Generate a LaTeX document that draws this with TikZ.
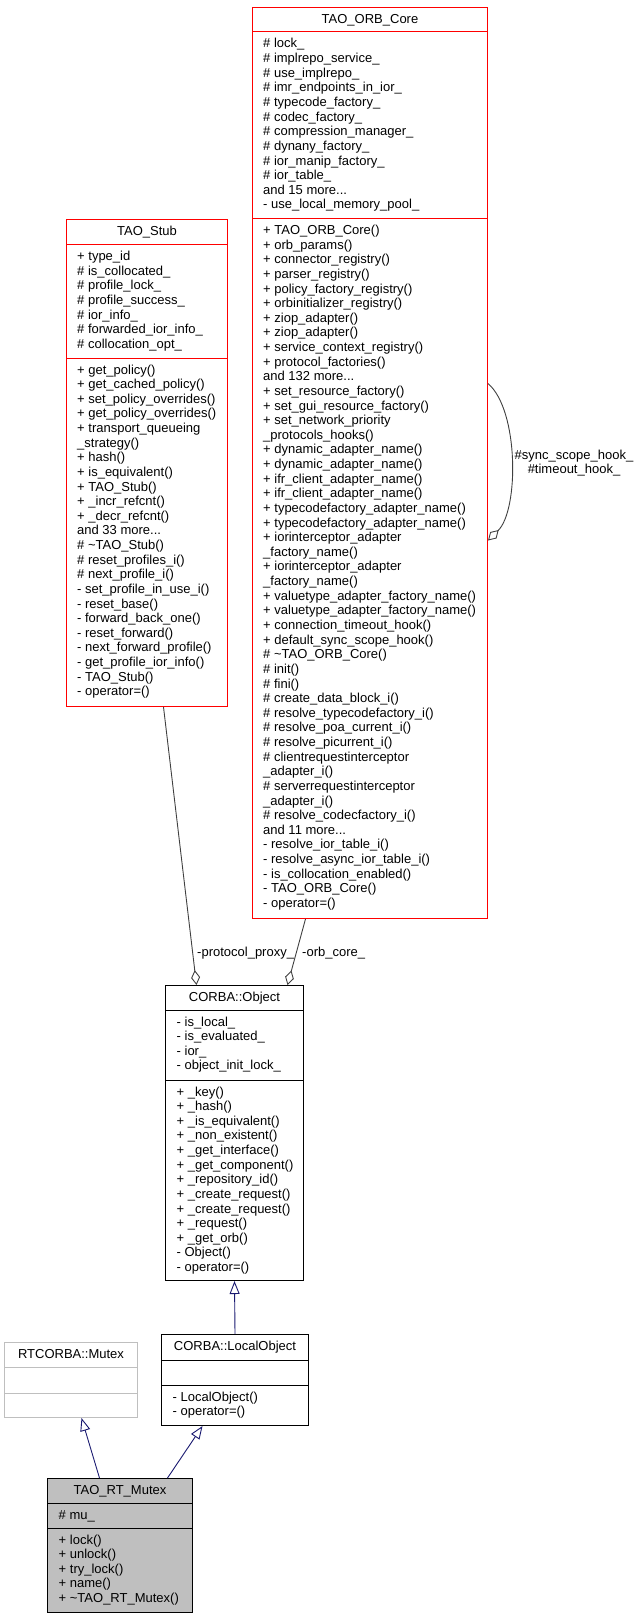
\documentclass[tikz,border=0pt]{standalone}
\usepackage{fontspec}
\setmainfont{Liberation Sans}
\usetikzlibrary{arrows.meta}
\definecolor{edgegray}{HTML}{404040}
\definecolor{inhblue}{HTML}{191970}
\definecolor{boxgray}{HTML}{BFBFBF}
\definecolor{boxred}{HTML}{FF0000}
\newcommand\moredots{...}

\begin{document}
\begin{tikzpicture}[x=1pt,y=-1pt,
  font={\fontsize{13}{14.63}\selectfont},
  classbox/.style={draw, anchor=north west, inner sep=0pt, line width=1pt},
  member/.style={anchor=base west, inner sep=0pt},
  heading/.style={anchor=base, inner sep=0pt},
  usage/.style={draw=edgegray, line width=0.9pt, -{Diamond[open,length=15pt,width=9pt]}},
  inherit/.style={draw=inhblue, line width=0.9pt, -{Triangle[open,length=13pt,width=10pt]}}]
  \useasboundingbox (0,0) rectangle (640,1619);

  \node[classbox, draw=boxred, minimum width=235pt, minimum height=911pt] (core) at (252,7) {};
  \node[heading] (core-title) at ([yshift=-16.5pt]core.north) {TAO\_ORB\_Core};
  \draw[boxred, line width=1pt] ([yshift=-25pt]core.north west) -- ([yshift=-25pt]core.north east);
  \draw[boxred, line width=1pt] ([yshift=-211pt]core.north west) -- ([yshift=-211pt]core.north east);
  \foreach \txt [count=\idx] in {\# lock\_, \# implrepo\_service\_, \# use\_implrepo\_,
    \# imr\_endpoints\_in\_ior\_, \# typecode\_factory\_, \# codec\_factory\_,
    \# compression\_manager\_, \# dynany\_factory\_, \# ior\_manip\_factory\_,
    \# ior\_table\_, and 15 more\moredots, - use\_local\_memory\_pool\_}
    \node[member] (core-a-\idx) at (263,{48+(\idx-1)*14.63}) {\txt};
  \foreach \txt [count=\idx] in {+ TAO\_ORB\_Core(), + orb\_params(), + connector\_registry(),
    + parser\_registry(), + policy\_factory\_registry(), + orbinitializer\_registry(),
    + ziop\_adapter(), + ziop\_adapter(), + service\_context\_registry(),
    + protocol\_factories(), and 132 more\moredots, + set\_resource\_factory(),
    + set\_gui\_resource\_factory(), + set\_network\_priority, \_protocols\_hooks(),
    + dynamic\_adapter\_name(), + dynamic\_adapter\_name(), + ifr\_client\_adapter\_name(),
    + ifr\_client\_adapter\_name(), + typecodefactory\_adapter\_name(),
    + typecodefactory\_adapter\_name(), + iorinterceptor\_adapter, \_factory\_name(),
    + iorinterceptor\_adapter, \_factory\_name(), + valuetype\_adapter\_factory\_name(),
    + valuetype\_adapter\_factory\_name(), + connection\_timeout\_hook(),
    + default\_sync\_scope\_hook(), \# \textasciitilde TAO\_ORB\_Core(), \# init(), \# fini(),
    \# create\_data\_block\_i(), \# resolve\_typecodefactory\_i(), \# resolve\_poa\_current\_i(),
    \# resolve\_picurrent\_i(), \# clientrequestinterceptor, \_adapter\_i(),
    \# serverrequestinterceptor, \_adapter\_i(), \# resolve\_codecfactory\_i(),
    and 11 more\moredots, - resolve\_ior\_table\_i(), - resolve\_async\_ior\_table\_i(),
    - is\_collocation\_enabled(), - TAO\_ORB\_Core(), - operator=()}
    \node[member] (core-m-\idx) at (263,{234.5+(\idx-1)*14.63}) {\txt};

  \node[classbox, draw=boxred, minimum width=161pt, minimum height=487pt] (stub) at (66,219) {};
  \node[heading] (stub-title) at ([yshift=-16.5pt]stub.north) {TAO\_Stub};
  \draw[boxred, line width=1pt] ([yshift=-25pt]stub.north west) -- ([yshift=-25pt]stub.north east);
  \draw[boxred, line width=1pt] ([yshift=-139pt]stub.north west) -- ([yshift=-139pt]stub.north east);
  \foreach \txt [count=\idx] in {+ type\_id, \# is\_collocated\_, \# profile\_lock\_,
    \# profile\_success\_, \# ior\_info\_, \# forwarded\_ior\_info\_, \# collocation\_opt\_}
    \node[member] (stub-a-\idx) at (77,{260.5+(\idx-1)*14.63}) {\txt};
  \foreach \txt [count=\idx] in {+ get\_policy(), + get\_cached\_policy(), + set\_policy\_overrides(),
    + get\_policy\_overrides(), + transport\_queueing, \_strategy(), + hash(), + is\_equivalent(),
    + TAO\_Stub(), + \_incr\_refcnt(), + \_decr\_refcnt(), and 33 more\moredots,
    \# \textasciitilde TAO\_Stub(), \# reset\_profiles\_i(), \# next\_profile\_i(),
    - set\_profile\_in\_use\_i(), - reset\_base(), - forward\_back\_one(), - reset\_forward(),
    - next\_forward\_profile(), - get\_profile\_ior\_info(), - TAO\_Stub(), - operator=()}
    \node[member] (stub-m-\idx) at (77,{374+(\idx-1)*14.63}) {\txt};

  \node[classbox, minimum width=138pt, minimum height=295pt] (obj) at (165,985) {};
  \node[heading] (obj-title) at ([yshift=-16.5pt]obj.north) {CORBA::Object};
  \draw[line width=1pt] ([yshift=-25pt]obj.north west) -- ([yshift=-25pt]obj.north east);
  \draw[line width=1pt] ([yshift=-95pt]obj.north west) -- ([yshift=-95pt]obj.north east);
  \foreach \txt [count=\idx] in {- is\_local\_, - is\_evaluated\_, - ior\_, - object\_init\_lock\_}
    \node[member] (obj-a-\idx) at (176.5,{1026+(\idx-1)*14.63}) {\txt};
  \foreach \txt [count=\idx] in {+ \_key(), + \_hash(), + \_is\_equivalent(), + \_non\_existent(),
    + \_get\_interface(), + \_get\_component(), + \_repository\_id(), + \_create\_request(),
    + \_create\_request(), + \_request(), + \_get\_orb(), - Object(), - operator=()}
    \node[member] (obj-m-\idx) at (176.5,{1096+(\idx-1)*14.63}) {\txt};

  \node[classbox, minimum width=147pt, minimum height=91pt] (local) at (161,1334) {};
  \node[heading] (local-title) at ([yshift=-16.5pt]local.north) {CORBA::LocalObject};
  \draw[line width=1pt] ([yshift=-26pt]local.north west) -- ([yshift=-26pt]local.north east);
  \draw[line width=1pt] ([yshift=-51pt]local.north west) -- ([yshift=-51pt]local.north east);
  \foreach \txt [count=\idx] in {- LocalObject(), - operator=()}
    \node[member] (local-m-\idx) at (172.5,{1401+(\idx-1)*14.63}) {\txt};

  \node[classbox, draw=boxgray, minimum width=133pt, minimum height=75pt] (rtmutex) at (4,1342) {};
  \node[heading] (rtmutex-title) at ([yshift=-16.5pt]rtmutex.north) {RTCORBA::Mutex};
  \draw[boxgray, line width=1pt] ([yshift=-25pt]rtmutex.north west) -- ([yshift=-25pt]rtmutex.north east);
  \draw[boxgray, line width=1pt] ([yshift=-51pt]rtmutex.north west) -- ([yshift=-51pt]rtmutex.north east);

  \node[classbox, fill=boxgray, minimum width=145pt, minimum height=134pt] (mutex) at (47,1478) {};
  \node[heading] (mutex-title) at ([yshift=-16.5pt]mutex.north) {TAO\_RT\_Mutex};
  \draw[line width=1pt] ([yshift=-25pt]mutex.north west) -- ([yshift=-25pt]mutex.north east);
  \draw[line width=1pt] ([yshift=-50pt]mutex.north west) -- ([yshift=-50pt]mutex.north east);
  \node[member] (mutex-a-1) at (58.5,1519) {\# mu\_};
  \foreach \txt [count=\idx] in {+ lock(), + unlock(), + try\_lock(), + name(),
    + \textasciitilde TAO\_RT\_Mutex()}
    \node[member] (mutex-m-\idx) at (58.5,{1544+(\idx-1)*14.63}) {\txt};

  \draw[usage] ([xshift=16.5pt]stub.south) -- ([xshift=-38pt]obj.north);
  \draw[usage] ([xshift=-64.5pt]core.south) -- ([xshift=53pt]obj.north);
  \node[member] (proxy-lbl) at (197,956) {-protocol\_proxy\_};
  \node[member] (orbcore-lbl) at (302,956) {-orb\_core\_};
  \draw[usage] ([yshift=79.5pt]core.east) .. controls (519,410) and (519,510) .. ([yshift=-77.5pt]core.east);
  \node[align=center, inner sep=0pt] (hook-lbl) at (574,463) {\#sync\_scope\_hook\_\\\#timeout\_hook\_};

  \draw[inherit] (local.north) -- (obj.south);
  \draw[inherit] ([xshift=-20.5pt]mutex.north) -- ([xshift=10.5pt]rtmutex.south);
  \draw[inherit] ([xshift=47.5pt]mutex.north) -- ([xshift=-32.5pt]local.south);
\end{tikzpicture}
\end{document}
